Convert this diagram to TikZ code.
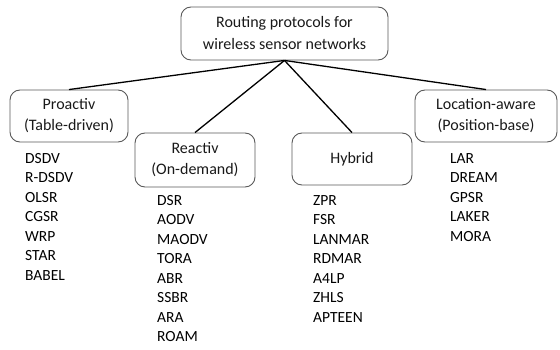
\documentclass[tikz,border=0pt]{standalone}
\usepackage{fontspec}
\setmainfont{Carlito}
\begin{document}
\begin{tikzpicture}[x=1pt,y=-1pt,
  box/.style={draw=black!65, rounded corners=10pt, line width=0.9pt, align=center, inner sep=0pt, text=black!90, font=\fontsize{16}{21}\selectfont},
  link/.style={line width=1.3pt, black},
  lst/.style={align=left, anchor=north west, inner sep=0pt, text=black, font=\fontsize{15.5}{19.5}\selectfont}]
\useasboundingbox (0,0) rectangle (560,350);
\node[box, minimum width=207pt, minimum height=53pt, font=\fontsize{16}{22}\selectfont] (root) at (284.5,33.5) {Routing protocols for\\wireless sensor networks};
\node[box, minimum width=118pt, minimum height=52pt] (pro) at (69,116) {Proactiv\\(Table-driven)};
\node[box, minimum width=120pt, minimum height=54pt] (rea) at (195,160) {Reactiv\\(On-demand)};
\node[box, minimum width=120pt, minimum height=52pt] (hyb) at (352,159) {Hybrid};
\node[box, minimum width=142pt, minimum height=52pt] (loc) at (486,116) {Location-aware\\(Position-base)};
\draw[link] (root.south) -- (pro.north);
\draw[link] (root.south) -- (rea.north);
\draw[link] (root.south) -- (hyb.north);
\draw[link] (root.south) -- (loc.north);
\node[lst] (lpro) at (25,153) {DSDV\\R-DSDV\\OLSR\\CGSR\\WRP\\STAR\\BABEL};
\node[lst] (lrea) at (157,195) {DSR\\AODV\\MAODV\\TORA\\ABR\\SSBR\\ARA\\ROAM};
\node[lst] (lhyb) at (313,195) {ZPR\\FSR\\LANMAR\\RDMAR\\A4LP\\ZHLS\\APTEEN};
\node[lst] (lloc) at (450,153) {LAR\\DREAM\\GPSR\\LAKER\\MORA};
\end{tikzpicture}
\end{document}
